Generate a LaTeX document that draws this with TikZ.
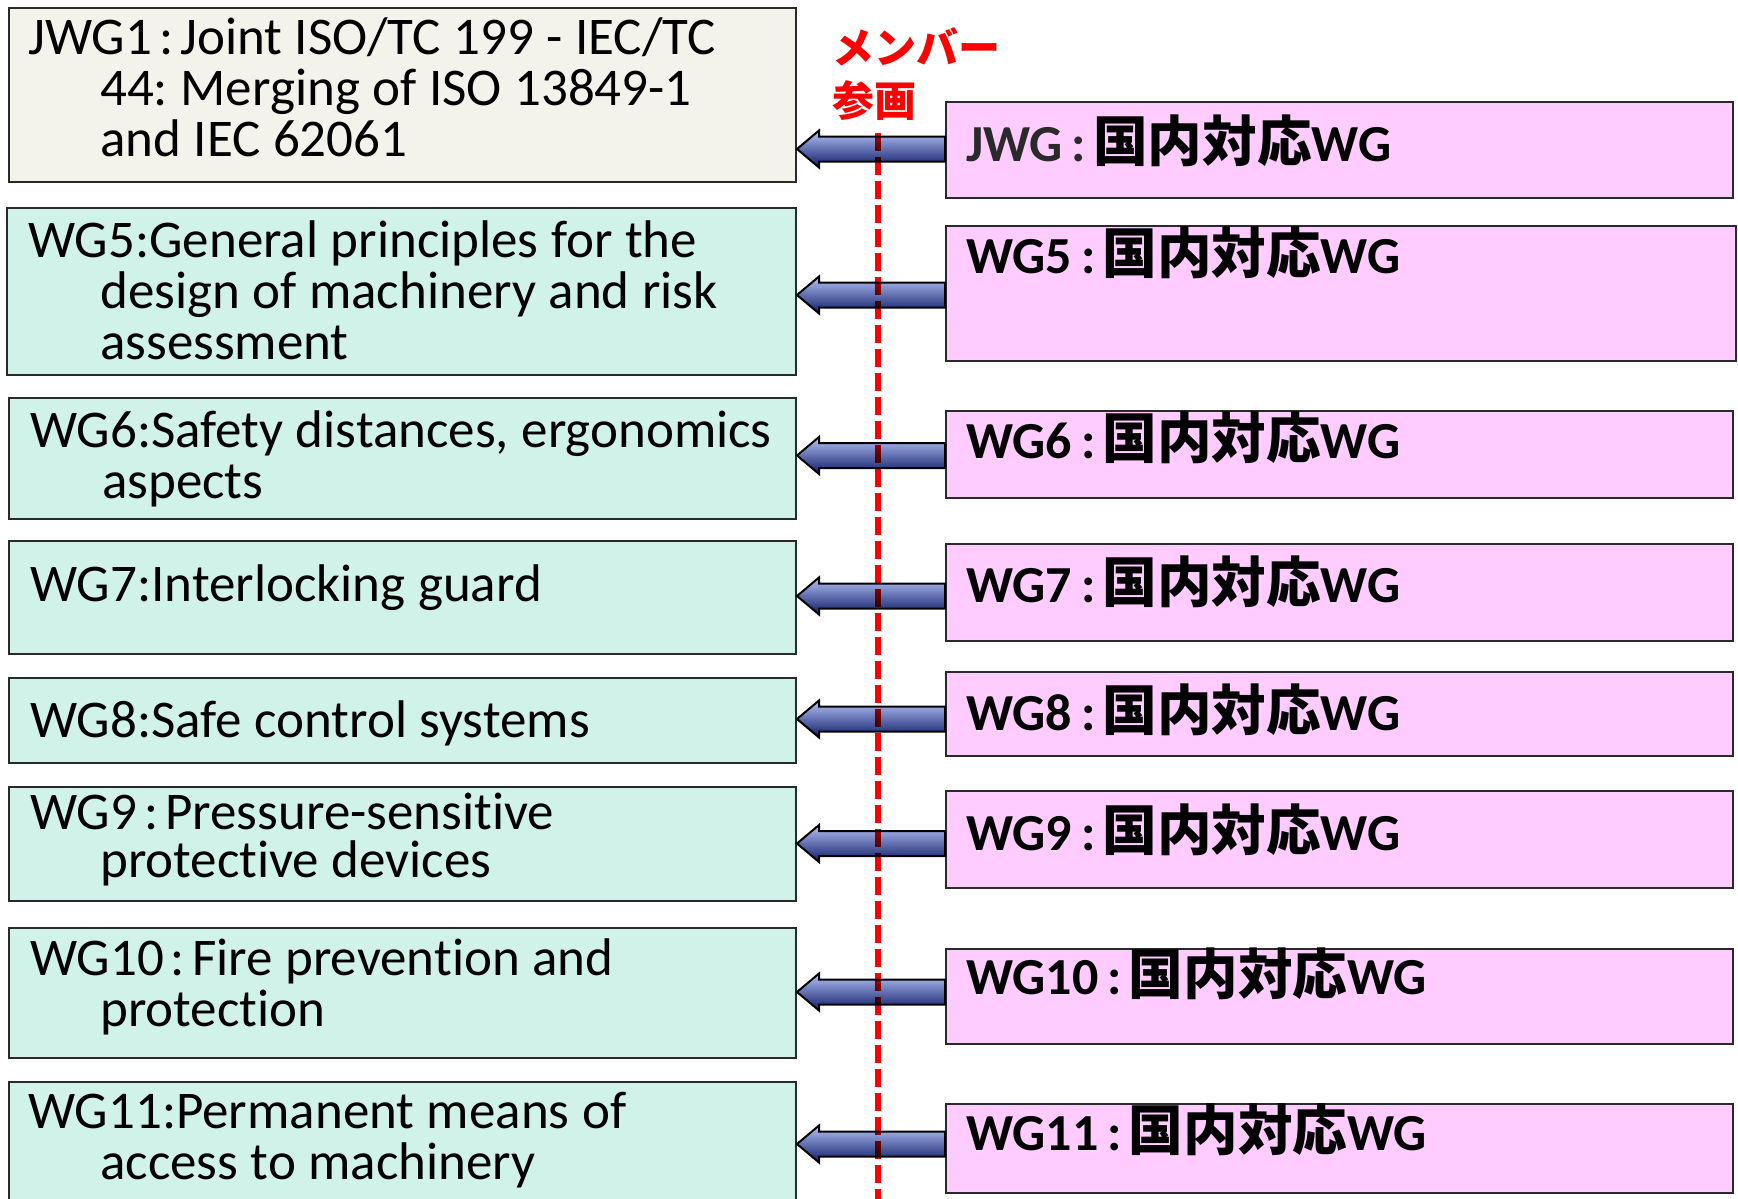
\documentclass[tikz,border=0pt]{standalone}
\usepackage{fontspec}
\setmainfont{Carlito}[Ligatures=CommonOff]
\newfontfamily\jp[Scale=1.05]{Noto Sans CJK JP}
\usetikzlibrary{calc}
\definecolor{beigebox}{HTML}{F3F3EC}
\definecolor{mintbox}{HTML}{D0F2E8}
\definecolor{pinkbox}{HTML}{FFCCFF}
\definecolor{edgecol}{HTML}{2A2A2A}
\definecolor{arrtop}{HTML}{B4C2F6}
\definecolor{arrmid}{HTML}{6676C4}
\definecolor{arrbot}{HTML}{0E1C68}
\newcommand\ws{\spaceskip=12.5pt\relax}
\tikzset{
  lbox/.style={draw=edgecol, line width=2pt, fill=mintbox, inner sep=0pt, anchor=north west, minimum width=787pt},
  rbox/.style={draw=edgecol, line width=2pt, fill=pinkbox, inner sep=0pt, anchor=north west, minimum width=787pt},
  ltext/.style={anchor=base west, inner sep=0pt, text width=770pt, align=left, font=\fontsize{53}{51}\selectfont},
  rtext/.style={anchor=base west, inner sep=0pt, font=\bfseries\fontsize{52}{52}\selectfont},
  blockarr/.style={draw=black, line width=2pt, line join=miter, top color=arrtop, middle color=arrmid, bottom color=arrbot},
}
\newcommand\blockarrow[3]{%
  \coordinate (tip) at (#1.east |- 0,#3);
  \coordinate (tail) at (#2.west |- 0,#3);
  \shade[blockarr] (tip) -- ($(tip)+(22,-18.5)$) -- ($(tip)+(22,-12.5)$) -- ($(tail)+(0,-12.5)$)
    -- ($(tail)+(0,12.5)$) -- ($(tip)+(22,12.5)$) -- ($(tip)+(22,18.5)$) -- cycle;
}
\newcommand\cln{\hspace{7pt}:\hspace{7pt}}
\newcommand\bcln{\hspace{9pt}:\hspace{7pt}}
\begin{document}
\frenchspacing
\begin{tikzpicture}[x=1pt,y=-1pt]
\useasboundingbox (0,0) rectangle (1738,1199);
\fill[white] (0,0) rectangle (1738,1199);
% left boxes
\node[lbox, fill=beigebox, minimum height=174pt] (l1) at (8,7) {};
\node[lbox, minimum width=789pt, minimum height=167pt] (l2) at (6,207) {};
\node[lbox, minimum height=121pt] (l3) at (8,397) {};
\node[lbox, minimum height=113pt] (l4) at (8,540) {};
\node[lbox, minimum height=85pt] (l5) at (8,677) {};
\node[lbox, minimum height=114pt] (l6) at (8,786) {};
\node[lbox, minimum height=130pt] (l7) at (8,927) {};
\node[lbox, minimum height=130pt] (l8) at (8,1081) {};
% left texts
\node[ltext] (lt1) at (28,55) {\ws JWG1\cln Joint ISO/TC 199 - IEC/TC\\\hspace*{72pt}44: Merging of ISO 13849-1\\\hspace*{72pt}and IEC 62061};
\node[ltext] (lt2) at (28,257) {\ws WG5:General principles for the\\\hspace*{72pt}design of machinery and risk\\\hspace*{72pt}assessment};
\node[ltext] (lt3) at (30,447) {\ws WG6:Safety distances, ergonomics\\\hspace*{72pt}aspects};
\node[ltext] (lt4) at (30,601) {\ws WG7:Interlocking guard};
\node[ltext] (lt5) at (30,737) {\ws WG8:Safe control systems};
\node[ltext] (lt6) at (30,829) {\ws WG9\cln Pressure-sensitive\\[-3pt]\hspace*{70pt}protective devices};
\node[ltext] (lt7) at (30,975) {\ws WG10\cln Fire prevention and\\\hspace*{70pt}protection};
\node[ltext] (lt8) at (28,1128) {\ws WG11:Permanent means of\\\hspace*{72pt}access to machinery};
% right boxes
\node[rbox, minimum height=96pt] (r1) at (945,101) {};
\node[rbox, minimum width=790pt, minimum height=135pt] (r2) at (945,225) {};
\node[rbox, minimum height=87pt] (r3) at (945,410) {};
\node[rbox, minimum height=97pt] (r4) at (945,543) {};
\node[rbox, minimum height=84pt] (r5) at (945,671) {};
\node[rbox, minimum height=97pt] (r6) at (945,790) {};
\node[rbox, minimum height=95pt] (r7) at (945,948) {};
\node[rbox, minimum height=89pt] (r8) at (945,1103) {};
% right texts
\node[rtext] (rt1) at (966,161) {\textcolor{edgecol}{JWG\bcln}{\jp 国内対応}WG};
\node[rtext] (rt2) at (966,273) {WG5\bcln{\jp 国内対応}WG};
\node[rtext] (rt3) at (966,458) {WG6\bcln{\jp 国内対応}WG};
\node[rtext] (rt4) at (966,602) {WG7\bcln{\jp 国内対応}WG};
\node[rtext] (rt5) at (966,730) {WG8\bcln{\jp 国内対応}WG};
\node[rtext] (rt6) at (966,850) {WG9\bcln{\jp 国内対応}WG};
\node[rtext] (rt7) at (966,994) {WG10\bcln{\jp 国内対応}WG};
\node[rtext] (rt8) at (966,1150) {WG11\bcln{\jp 国内対応}WG};
% arrows
\blockarrow{l1}{r1}{149}
\blockarrow{l2}{r2}{295}
\blockarrow{l3}{r3}{455.5}
\blockarrow{l4}{r4}{596}
\blockarrow{l5}{r5}{719}
\blockarrow{l6}{r6}{843.5}
\blockarrow{l7}{r7}{992}
\blockarrow{l8}{r8}{1144}
% red label and dashed line
\node[anchor=base west, inner sep=0pt, text width=220pt, align=left, text=red, font=\jp\bfseries\fontsize{40}{53}\selectfont] (member) at (832,64) {メンバー\\参画};
\coordinate (dtop) at (877.7,133);
\coordinate (dbot) at (877.7,1199);
\begin{scope}[blend mode=multiply]
\draw[red, line width=6pt, dash pattern=on 18pt off 6pt] (dtop) -- (dbot);
\end{scope}
\end{tikzpicture}
\end{document}
